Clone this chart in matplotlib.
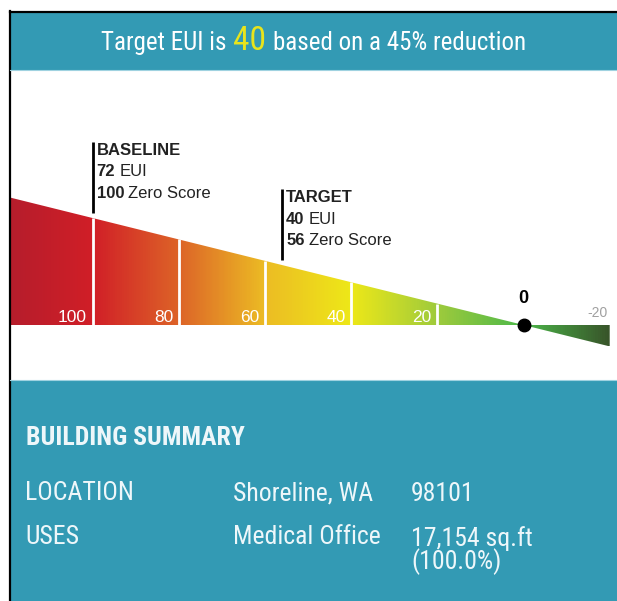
import numpy as np
import matplotlib
matplotlib.use("Agg")
import matplotlib.pyplot as plt
from matplotlib.colors import LinearSegmentedColormap, Normalize
from matplotlib.patches import Polygon
from matplotlib.lines import Line2D
from matplotlib.offsetbox import TextArea, HPacker, AnnotationBbox

# data
target_eui = 40
reduction_pct = 45
tick_scores = [100, 80, 60, 40, 20]
wedge_min, wedge_max = -20, 120
markers = [
    {"name": "BASELINE", "eui": 72, "score": 100},
    {"name": "TARGET", "eui": 40, "score": 56},
]
grad_scores = [120, 100, 80, 60, 40, 20, 0, -20]
grad_colors = ["#b51d2c", "#d11f27", "#dd6428", "#ecbc24", "#eee818",
               "#9fcb3c", "#4cb84a", "#38552a"]
summary_labels = ["LOCATION", "USES"]
summary_col1 = ["Shoreline, WA", "Medical Office"]
summary_col2 = ["98101", "17,154 sq.ft\n(100.0%)"]

TEAL = "#339ab4"
NARROW = ["Liberation Sans Narrow", "Roboto Condensed", "Arial Narrow", "Liberation Sans"]
SANS = ["Liberation Sans", "DejaVu Sans"]

W, H = 617, 601
fig = plt.figure(figsize=(W / 100, H / 100), dpi=100)


def rect(x0, y0, x1, y1):
    return [x0 / W, 1 - y1 / H, (x1 - x0) / W, (y1 - y0) / H]


def fx(px):
    return px / W


def fy(py):
    return 1 - py / H


# header band
ax_head = fig.add_axes(rect(10, 12, 617, 70))
ax_head.set_facecolor(TEAL)
ax_head.set_xticks([])
ax_head.set_yticks([])
for sp in ax_head.spines.values():
    sp.set_visible(False)

parts = [
    TextArea("Target EUI is", textprops=dict(color="white", size=18, family=NARROW)),
    TextArea(str(target_eui), textprops=dict(color="#e8e41c", size=24, family=NARROW)),
    TextArea("based on a %d%% reduction" % reduction_pct,
             textprops=dict(color="white", size=18, family=NARROW)),
]
pack = HPacker(children=parts, align="baseline", pad=0, sep=5)
ax_head.add_artist(AnnotationBbox(pack, (0.5, 0.5), xycoords="axes fraction",
                                  box_alignment=(0.5, 0.5), frameon=False, pad=0))

# chart
ZERO_PX, PX_PER_SCORE = 523.5, 4.31
BASE_PX, PX_PER_UNIT = 325, 1.07
ax = fig.add_axes(rect(10, 71, 617, 379))
ax.axis("off")

wedge = Polygon([(wedge_max, 0), (wedge_max, wedge_max), (wedge_min, wedge_min),
                 (wedge_min, 0)], closed=True, facecolor="none", edgecolor="none")
ax.add_patch(wedge)

pos = [(s - wedge_min) / (wedge_max - wedge_min) for s in grad_scores[::-1]]
cmap = LinearSegmentedColormap.from_list("eui", list(zip(pos, grad_colors[::-1])))
ramp = np.linspace(wedge_max, wedge_min, 600).reshape(1, -1)
img = ax.imshow(ramp, cmap=cmap, norm=Normalize(wedge_min, wedge_max),
                extent=(wedge_max, wedge_min, wedge_min, wedge_max),
                aspect="auto", interpolation="bilinear")
img.set_clip_path(wedge)

ax.vlines(tick_scores, 0, tick_scores, color="white", lw=2)
for s in tick_scores:
    ax.text(s + 1.3, 2.8, str(s), ha="right", va="baseline", color="white",
            size=12.5, family=SANS)

ax.plot([0], [0], "o", color="black", ms=9, zorder=5, clip_on=False)
ax.text(0, 25, "0", ha="center", va="center", size=13, weight="bold", family=SANS)
ax.text(-17.2, 11.2, str(wedge_min), ha="center", va="center", size=10,
        color="#a0a0a0", family=SANS)


def rich_line(x, y, pieces):
    boxes = [TextArea(t, textprops=dict(color="#222222", size=12, weight=w, family=SANS))
             for t, w in pieces]
    hp = HPacker(children=boxes, align="baseline", pad=0, sep=3)
    ax.add_artist(AnnotationBbox(hp, (x, y), xycoords="data", box_alignment=(0, 0.5),
                                 frameon=False, pad=0))


for m in markers:
    s = m["score"]
    ax.vlines(s, s + 5, s + 71, color="black", lw=2)
    tx = s - 4 / PX_PER_SCORE
    rich_line(tx, s + 63, [(m["name"], "bold")])
    rich_line(tx, s + 43, [(str(m["eui"]), "bold"), ("EUI", "normal")])
    rich_line(tx, s + 23, [(str(s), "bold"), ("Zero Score", "normal")])

ax.set_xlim((ZERO_PX - 10) / PX_PER_SCORE, (ZERO_PX - 617) / PX_PER_SCORE)
ax.set_ylim(-(379 - BASE_PX) / PX_PER_UNIT, (BASE_PX - 71) / PX_PER_UNIT)

# building summary panel
ax_sum = fig.add_axes(rect(10, 380, 617, 601))
ax_sum.set_facecolor(TEAL)
ax_sum.set_xticks([])
ax_sum.set_yticks([])
for sp in ax_sum.spines.values():
    sp.set_visible(False)

txt = "#eef7fa"
fig.text(fx(26), fy(438), "BUILDING SUMMARY", color=txt, size=18.5, weight="bold",
         family=NARROW, va="center")
row_y = [493, 537]
for i, lab in enumerate(summary_labels):
    y = row_y[i]
    fig.text(fx(25), fy(y), lab, color=txt, size=18.5, family=NARROW, va="center")
    fig.text(fx(233), fy(y), summary_col1[i], color=txt, size=18.5, family=NARROW,
             va="center")
    fig.text(fx(411), fy(y - 11), summary_col2[i], color=txt, size=18.5, family=NARROW,
             va="top", linespacing=0.85)

# frame
fig.add_artist(Line2D([fx(10), fx(10)], [fy(11), 0], color="black", lw=1.6))
fig.add_artist(Line2D([fx(10), 1], [fy(11.5), fy(11.5)], color="black", lw=1.6))
fig.add_artist(Line2D([fx(10), 1], [fy(70), fy(70)], color="#9fd2e0", lw=0.8))
fig.add_artist(Line2D([fx(10), 1], [fy(380), fy(380)], color="#9fd2e0", lw=0.8))

fig.savefig("out.png", dpi=100)
